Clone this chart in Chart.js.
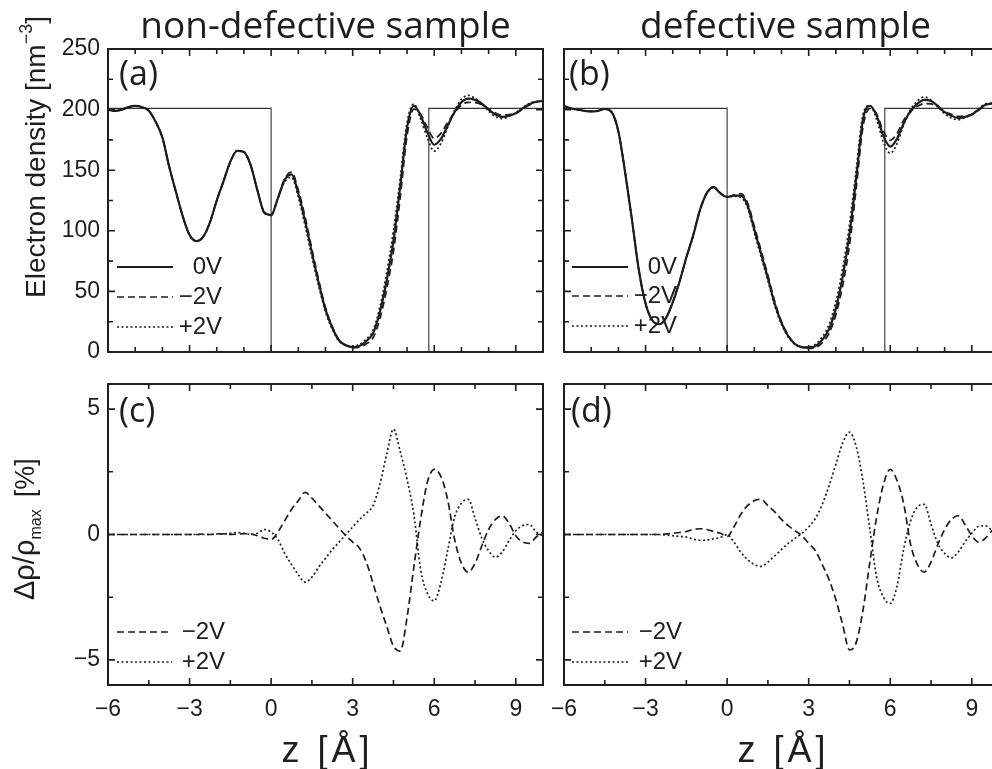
<!DOCTYPE html>
<html>
<head>
<meta charset="utf-8">
<title>Electron density profiles</title>
<script src="https://cdn.jsdelivr.net/npm/chart.js@4.4.1/dist/chart.umd.min.js"></script>
<style>
  html, body { margin: 0; padding: 0; background: #fff; overflow: hidden; }
  body { width: 992px; height: 769px; position: relative; }
  canvas { position: absolute; }
</style>
</head>
<body>
<canvas id="panelA" width="560" height="360" style="left:0;top:0"></canvas>
<canvas id="panelB" width="460" height="360" style="left:545px;top:0"></canvas>
<canvas id="panelC" width="560" height="409" style="left:0;top:360px"></canvas>
<canvas id="panelD" width="460" height="409" style="left:545px;top:360px"></canvas>
<script>
// z positions (Å) shared by every curve
const zGrid = [-6, -5.75, -5.5, -5.25, -5, -4.75, -4.5, -4.25, -4, -3.75, -3.5, -3.25, -3, -2.75, -2.5, -2.25,
  -2, -1.75, -1.5, -1.25, -1, -0.75, -0.5, -0.25, 0, 0.25, 0.5, 0.75, 1, 1.25, 1.5, 1.75,
  2, 2.25, 2.5, 2.75, 3, 3.25, 3.5, 3.75, 4, 4.25, 4.5, 4.75, 5, 5.25, 5.5, 5.75,
  6, 6.25, 6.5, 6.75, 7, 7.25, 7.5, 7.75, 8, 8.25, 8.5, 8.75, 9, 9.25, 9.5, 9.75, 10];

// (a) non-defective sample, electron density [nm^-3]
const densA0V = [200, 199, 200, 202, 203, 202, 199, 190, 177, 153, 132, 112, 96.5, 91.5, 95, 107,
  125, 141, 157, 166, 165, 154, 133, 115, 113, 127, 142, 146.5, 131, 108, 82, 57,
  35, 20, 9.5, 5.6, 4, 5, 9, 15.5, 33, 59, 92, 137, 185, 203, 195, 181,
  171, 176, 187, 198, 206, 209, 208, 205, 200, 196, 194, 195, 197, 201, 204.5, 206.5, 207];
const densAm2V = [200, 199, 200, 202, 203, 202, 199, 190, 177, 153, 132, 112, 96.5, 91.5, 95, 107,
  125, 141, 157, 166, 165, 154, 133, 114.7, 112.6, 127.2, 143.1, 148.5, 133.7, 111.4, 84.9, 59.3,
  36.7, 21.1, 10, 5.5, 3.4, 3.9, 6.8, 11.6, 27.3, 51.7, 83.1, 127.7, 178.4, 200.4, 196.2, 185.2,
  176.2, 180.6, 189.7, 197.6, 203.7, 206, 205.7, 204.1, 200.4, 197.2, 195.5, 195.9, 196.9, 200.4, 203.8, 206.3, 207.2];
const densAp2V = [200, 199, 200, 202, 203, 202, 199, 190, 177, 153, 132, 112, 96.5, 91.5, 95, 107,
  125, 141, 157.1, 166.2, 165.1, 154, 133.1, 115.4, 113.2, 126.6, 140.5, 144.1, 127.8, 104.2, 78.6, 54.4,
  33.1, 18.8, 8.9, 5.6, 4.6, 6.2, 10.7, 17.8, 37, 65.4, 100.4, 143.6, 189.4, 204.6, 192.2, 176.3,
  165.7, 172.2, 185.8, 199.4, 208.5, 211.8, 209.3, 204.7, 198.7, 194.2, 192.6, 194.5, 197.3, 201.7, 205.3, 206.7, 206.9];

// (b) defective sample
const densB0V = [203, 201, 200, 199, 198.5, 199, 200.5, 198, 182, 148, 109, 68, 40, 26, 23, 28,
  41, 58, 78, 96, 117, 131, 136, 131, 128, 129, 129, 121, 101, 81, 61, 40,
  24, 13, 6.5, 4, 3.6, 5, 10, 19, 36, 62, 97, 144, 192, 203, 195, 178,
  169.5, 176, 189, 199, 205, 208, 207, 203, 198, 195, 193, 194, 196, 200, 204, 205, 206];
const densBm2V = [203, 201, 200, 199, 198.5, 199, 200.5, 198, 182, 148, 109, 68, 40, 26, 23, 28,
  41.1, 58.2, 78.2, 96.4, 117.5, 131.4, 136.2, 131.1, 127.8, 129.6, 130.6, 123.3, 103.7, 83.8, 63.3, 41.8,
  25.2, 13.7, 6.8, 3.9, 2.9, 3.7, 7.6, 15.4, 30.8, 54.8, 87.8, 135.4, 186, 200.8, 196.4, 182,
  174.7, 180.3, 191.4, 198.2, 202.6, 205, 204.8, 202.2, 198.4, 196.2, 194.5, 194.8, 195.9, 199.4, 203.7, 205.3, 206.5];
const densBp2V = [203, 201, 200, 199, 198.5, 199, 200.5, 198, 182, 148, 109, 68, 40, 26, 23, 28,
  40.9, 57.8, 77.8, 95.6, 116.5, 130.6, 135.7, 130.8, 128, 128.4, 127.6, 119, 98.6, 78.5, 58.8, 38.3,
  22.8, 12.3, 6.2, 4.1, 4.2, 6.3, 12.4, 22.9, 41.6, 69.3, 105.2, 151, 196.2, 203.4, 191.6, 173,
  164, 171.9, 187.9, 200.1, 207.2, 210.4, 207.8, 202.3, 196.5, 193.1, 191.6, 193.4, 196.1, 200.7, 204.7, 205.3, 205.9];

// (c) relative change, non-defective [%]
const diffCm2V = [0, 0, 0, 0, 0, 0, 0, 0, 0, 0, 0, 0, 0, 0, 0.02, 0,
  0.02, 0.03, 0, 0.02, 0.03, 0.02, -0.05, -0.15, -0.2, 0.1, 0.55, 1.0, 1.35, 1.68, 1.45, 1.15,
  0.85, 0.55, 0.25, -0.05, -0.3, -0.55, -1.1, -1.95, -2.85, -3.65, -4.45, -4.65, -3.3, -1.3, 0.6, 2.1,
  2.6, 2.3, 1.35, -0.2, -1.15, -1.5, -1.15, -0.45, 0.2, 0.6, 0.75, 0.45, -0.05, -0.3, -0.35, -0.1, 0.1];
const diffCp2V = [0, 0, 0, 0, 0, 0, 0, 0, 0, 0, 0, 0, 0, 0, 0, 0,
  0.02, 0.02, 0.05, 0.08, 0.05, 0, 0.05, 0.2, 0.1, -0.2, -0.75, -1.2, -1.6, -1.9, -1.7, -1.3,
  -0.95, -0.6, -0.3, 0, 0.3, 0.6, 0.85, 1.15, 2.0, 3.2, 4.2, 3.3, 2.2, 0.8, -1.4, -2.35,
  -2.65, -1.9, -0.6, 0.7, 1.25, 1.4, 0.65, -0.15, -0.65, -0.9, -0.7, -0.25, 0.15, 0.35, 0.4, 0.1, -0.05];

// (d) relative change, defective [%]
const diffDm2V = [0, 0, 0, 0, 0, 0, 0, 0, 0, 0, 0, 0, 0, 0, 0, 0.02,
  0.05, 0.08, 0.12, 0.2, 0.23, 0.2, 0.12, 0.05, -0.08, 0.3, 0.8, 1.15, 1.35, 1.4, 1.15, 0.9,
  0.6, 0.35, 0.15, -0.05, -0.35, -0.65, -1.2, -1.8, -2.6, -3.6, -4.6, -4.3, -3.0, -1.1, 0.7, 2.0,
  2.6, 2.15, 1.2, -0.4, -1.2, -1.5, -1.1, -0.4, 0.2, 0.6, 0.75, 0.4, -0.05, -0.3, -0.15, 0.15, 0.25];
const diffDp2V = [0, 0, 0, 0, 0, 0, 0, 0, 0, 0, 0, 0, 0, 0, 0, -0.02,
  -0.05, -0.08, -0.1, -0.18, -0.23, -0.22, -0.17, -0.12, 0, -0.3, -0.7, -1.0, -1.2, -1.27, -1.1, -0.85,
  -0.6, -0.35, -0.15, 0.05, 0.3, 0.65, 1.2, 1.95, 2.8, 3.65, 4.08, 3.5, 2.1, 0.2, -1.7, -2.5,
  -2.75, -2.05, -0.55, 0.55, 1.1, 1.2, 0.4, -0.35, -0.75, -0.93, -0.7, -0.3, 0.05, 0.33, 0.35, 0.15, -0.05];

// slab model drawn in (a) and (b)
const boxZ = [-6, 0, 0, 5.8, 5.8, 10];
const boxRho = [201, 201, 0, 0, 201, 201];

// ticks and labels
const zTicksTop = [-6, -5, -4, -3, -2, -1, 0, 1, 2, 3, 4, 5, 6, 7, 8, 9, 10];
const zTicksBottom = [-6, -4.5, -3, -1.5, 0, 1.5, 3, 4.5, 6, 7.5, 9];
const zLabels = [-6, -3, 0, 3, 6, 9];
const rhoTicks = [0, 25, 50, 75, 100, 125, 150, 175, 200, 225, 250];
const rhoLabels = [0, 50, 100, 150, 200, 250];
const diffTicks = [-5, -2.5, 0, 2.5, 5];
const diffLabels = [-5, 0, 5];

const ink = '#1e1e1e';
const tickFont = { family: '"Liberation Sans", Arial, sans-serif', size: 23 };
const fmt = v => (v < 0 ? '\u2212' + Math.abs(v) : String(v));
const pts = (xs, ys) => xs.map((x, i) => ({ x, y: ys[i] }));

const SOLID = { w: 2.2, dash: [] };
const DASHED = { w: 1.7, dash: [7, 4] };
const DOTTED = { w: 1.7, dash: [2, 2.5] };

function curve(label, ys, style) {
  return {
    label, data: pts(zGrid, ys), inLegend: true,
    borderColor: ink, borderWidth: style.w, borderDash: style.dash,
    cubicInterpolationMode: 'monotone', pointRadius: 0, fill: false
  };
}

function box() {
  return { label: 'model', data: pts(boxZ, boxRho), borderColor: '#333', borderWidth: 1.1, tension: 0, pointRadius: 0, fill: false };
}

// frame, inward ticks, panel letter, legend and outer texts
const figure = {
  id: 'figure',
  afterDatasetsDraw(chart, args, o) {
    const { ctx, chartArea: a, scales: { x, y } } = chart;
    ctx.save();
    ctx.strokeStyle = ink;
    ctx.fillStyle = ink;
    ctx.setLineDash([]);

    ctx.lineWidth = 1.6;
    ctx.beginPath();
    o.xTicks.forEach(v => {
      const px = x.getPixelForValue(v);
      const len = zLabels.includes(v) ? 7 : 5;
      ctx.moveTo(px, a.bottom); ctx.lineTo(px, a.bottom - len);
      ctx.moveTo(px, a.top); ctx.lineTo(px, a.top + len);
    });
    o.yTicks.forEach(v => {
      const py = y.getPixelForValue(v);
      const len = o.yMajor.includes(v) ? 7 : 5;
      ctx.moveTo(a.left, py); ctx.lineTo(a.left + len, py);
      ctx.moveTo(a.right, py); ctx.lineTo(a.right - len, py);
    });
    ctx.stroke();
    ctx.lineWidth = 2;
    ctx.strokeRect(a.left, a.top, a.right - a.left, a.bottom - a.top);

    // (a), (b), ...
    ctx.font = '34px "Open Sans", sans-serif';
    ctx.textAlign = 'left';
    ctx.textBaseline = 'alphabetic';
    ctx.fillText(o.letter, a.left + o.letterX, a.top + o.letterY);

    // legend inside the lower left corner
    const L = o.legend;
    ctx.font = '24px "Liberation Sans", Arial, sans-serif';
    ctx.textAlign = 'right';
    ctx.textBaseline = 'middle';
    chart.data.datasets.filter(d => d.inLegend).forEach((d, i) => {
      const ry = a.top + L.rows[i];
      ctx.lineWidth = d.borderWidth * 0.8;
      ctx.setLineDash(d.borderDash || []);
      ctx.beginPath();
      ctx.moveTo(a.left + L.x1, ry);
      ctx.lineTo(a.left + L.x2, ry);
      ctx.stroke();
      ctx.setLineDash([]);
      ctx.fillText(d.label, a.left + L.tx, ry);
    });

    if (o.title) {
      ctx.font = '37px "Open Sans", sans-serif';
      ctx.textAlign = 'center';
      ctx.textBaseline = 'alphabetic';
      ctx.fillText(o.title, (a.left + a.right) / 2 + (o.titleDx || 0), o.titleY);
    }

    if (o.yTitle) {
      const t = o.yTitle;
      ctx.save();
      ctx.translate(t.x, t.y);
      ctx.rotate(-Math.PI / 2);
      ctx.textAlign = 'left';
      ctx.textBaseline = 'alphabetic';
      let cx = 0;
      t.parts.forEach(p => {
        ctx.font = p.size + 'px "Liberation Sans", Arial, sans-serif';
        ctx.fillText(p.text, cx, p.dy || 0);
        cx += ctx.measureText(p.text).width + (p.gap || 0);
      });
      ctx.restore();
    }

    if (o.xTitle) {
      ctx.font = '36px "Liberation Sans", Arial, sans-serif';
      ctx.letterSpacing = '4px';
      ctx.textAlign = 'center';
      ctx.textBaseline = 'alphabetic';
      ctx.fillText(o.xTitle, (a.left + a.right) / 2 + 2, o.xTitleY);
      ctx.letterSpacing = '0px';
    }
    ctx.restore();
  }
};

function panel(id, cfg) {
  return new Chart(document.getElementById(id), {
    type: 'line',
    data: { datasets: cfg.datasets },
    options: {
      responsive: false,
      animation: false,
      events: [],
      layout: { padding: cfg.padding },
      plugins: { legend: { display: false }, tooltip: { enabled: false }, figure: cfg.figure },
      scales: {
        x: {
          type: 'linear', min: -6, max: 10, display: cfg.xLabels,
          grid: { display: false, drawTicks: false }, border: { display: false },
          afterBuildTicks: s => { s.ticks = cfg.figure.xTicks.map(v => ({ value: v })); },
          afterFit: s => {
            s.height = cfg.xLabels ? 84 : 0;
            s.paddingLeft = 0; s.paddingRight = 0;
          },
          ticks: {
            padding: 11, font: tickFont, color: ink, maxRotation: 0, autoSkip: false,
            callback: v => (zLabels.includes(v) ? fmt(v) : '')
          }
        },
        y: {
          type: 'linear', min: cfg.yMin, max: cfg.yMax, display: cfg.yLabels,
          grid: { display: false, drawTicks: false }, border: { display: false },
          afterBuildTicks: s => { s.ticks = cfg.figure.yTicks.map(v => ({ value: v })); },
          afterFit: s => {
            s.width = cfg.yLabels ? 100 : 0;
            s.paddingTop = 0; s.paddingBottom = 0;
          },
          ticks: {
            padding: 8, font: tickFont, color: ink, autoSkip: false,
            callback: v => (cfg.figure.yMajor.includes(v) ? fmt(v) : '')
          }
        }
      }
    },
    plugins: [figure]
  });
}

panel('panelA', {
  padding: { left: 8, top: 49, right: 17, bottom: 8 },
  xLabels: false, yLabels: true, yMin: 0, yMax: 250,
  datasets: [curve('0V', densA0V, SOLID), curve('\u22122V', densAm2V, DASHED), curve('+2V', densAp2V, DOTTED), box()],
  figure: {
    xTicks: zTicksTop, yTicks: rhoTicks, yMajor: rhoLabels,
    letter: '(a)', letterX: 11, letterY: 36,
    legend: { x1: 9, x2: 65, tx: 114, rows: [218, 248, 278] },
    title: 'non-defective sample', titleY: 38,
    yTitle: { x: 45, y: 298, parts: [
      { text: 'Electron density [nm', size: 28 },
      { text: '\u22123', size: 18, dy: -13 },
      { text: ']', size: 28 }] }
  }
});

panel('panelB', {
  padding: { left: 19, top: 49, right: 6, bottom: 8 },
  xLabels: false, yLabels: false, yMin: 0, yMax: 250,
  datasets: [curve('0V', densB0V, SOLID), curve('\u22122V', densBm2V, DASHED), curve('+2V', densBp2V, DOTTED), box()],
  figure: {
    xTicks: zTicksTop, yTicks: rhoTicks, yMajor: rhoLabels,
    letter: '(b)', letterX: 5, letterY: 36,
    legend: { x1: 8, x2: 64, tx: 113, rows: [218, 247, 277] },
    title: 'defective sample', titleY: 38, titleDx: 4
  }
});

panel('panelC', {
  padding: { left: 8, top: 24, right: 17, bottom: 0 },
  xLabels: true, yLabels: true, yMin: -6, yMax: 6,
  datasets: [curve('\u22122V', diffCm2V, DASHED), curve('+2V', diffCp2V, DOTTED)],
  figure: {
    xTicks: zTicksBottom, yTicks: diffTicks, yMajor: diffLabels,
    letter: '(c)', letterX: 11, letterY: 38,
    legend: { x1: 9, x2: 64, tx: 117, rows: [248, 278] },
    xTitle: 'z [\u00C5]', xTitleY: 402,
    yTitle: { x: 34, y: 240, parts: [
      { text: '\u0394\u03C1/\u03C1', size: 29 },
      { text: 'max', size: 16, dy: 7, gap: 12 },
      { text: '[%]', size: 27 }] }
  }
});

panel('panelD', {
  padding: { left: 19, top: 24, right: 6, bottom: 0 },
  xLabels: true, yLabels: false, yMin: -6, yMax: 6,
  datasets: [curve('\u22122V', diffDm2V, DASHED), curve('+2V', diffDp2V, DOTTED)],
  figure: {
    xTicks: zTicksBottom, yTicks: diffTicks, yMajor: diffLabels,
    letter: '(d)', letterX: 7, letterY: 38,
    legend: { x1: 8, x2: 64, tx: 118, rows: [248, 278] },
    xTitle: 'z [\u00C5]', xTitleY: 402
  }
});
</script>
</body>
</html>
